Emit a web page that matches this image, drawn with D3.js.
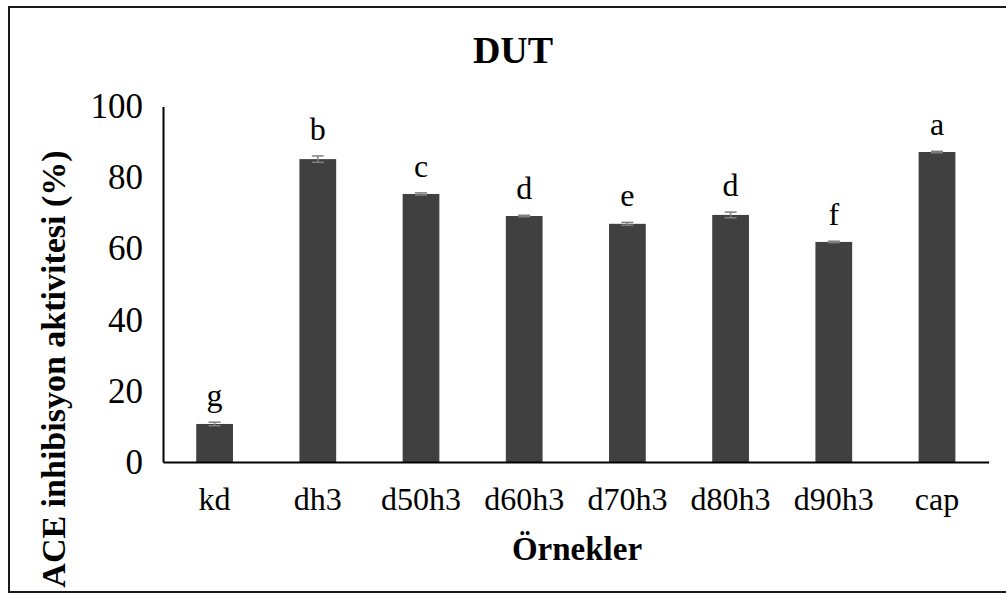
<!DOCTYPE html>
<html><head><meta charset="utf-8">
<script src="https://cdn.jsdelivr.net/npm/d3@7"></script>
<style>body{margin:0;background:#fff}svg{display:block}
svg text{font-family:"Liberation Serif","Times New Roman",Times,serif !important;}</style>
</head><body>
<script>
const categories = ["kd","dh3","d50h3","d60h3","d70h3","d80h3","d90h3","cap"];
const values = [10.7, 85.2, 75.4, 69.2, 67.0, 69.5, 61.9, 87.2];
const errors = [0.5, 0.9, 0.3, 0.2, 0.4, 0.8, 0.2, 0.2];
const letters = ["g","b","c","d","e","d","f","a"];
const yTicks = [0,20,40,60,80,100];

const W = 1006, H = 597;
const svg = d3.select("body").append("svg").attr("width", W).attr("height", H);

svg.append("rect").attr("x",9).attr("y",7).attr("width",W-9+2).attr("height",585)
  .attr("fill","#fff").attr("stroke","#1a1a1a").attr("stroke-width",2);

const x = d3.scaleBand().domain(categories).range([163, 988.6]).paddingInner(0.644).paddingOuter(0.322);
const y = d3.scaleLinear().domain([0,100]).range([462, 106.5]);

// bars
svg.selectAll("rect.bar").data(categories).enter().append("rect")
  .attr("class","bar")
  .attr("x", d => x(d)).attr("width", x.bandwidth())
  .attr("y", (d,i) => y(values[i])).attr("height", (d,i) => y(0)-y(values[i]))
  .attr("fill","#404040");

// error bars
const eb = svg.append("g").attr("stroke","#7f7f7f").attr("stroke-width",1.5);
categories.forEach((c,i) => {
  const cx = x(c) + x.bandwidth()/2;
  const y1 = y(values[i]+errors[i]), y2 = y(values[i]-errors[i]);
  eb.append("line").attr("x1",cx).attr("x2",cx).attr("y1",y1).attr("y2",y2);
  eb.append("line").attr("x1",cx-6).attr("x2",cx+6).attr("y1",y1).attr("y2",y1);
  eb.append("line").attr("x1",cx-6).attr("x2",cx+6).attr("y1",y2).attr("y2",y2);
});

// letters
svg.selectAll("text.lt").data(categories).enter().append("text")
  .attr("x", d => x(d) + x.bandwidth()/2)
  .attr("y", (d,i) => y(values[i]+errors[i]) - 16)
  .attr("text-anchor","middle").attr("font-size",32)
  .attr("fill","#000").text((d,i) => letters[i]);

// y axis
const ya = svg.append("g").attr("transform","translate(163,0)")
  .call(d3.axisLeft(y).tickValues(yTicks).tickSize(0).tickPadding(20));
ya.select(".domain").attr("stroke","#000").attr("stroke-width",2);
ya.selectAll("text").attr("font-size",35).attr("fill","#000");

// x axis
const xa = svg.append("g").attr("transform","translate(0,462)")
  .call(d3.axisBottom(x).tickSize(0).tickPadding(25));
xa.select(".domain").attr("stroke","#000").attr("stroke-width",2);
xa.selectAll("text").attr("font-size",32).attr("fill","#000");

// titles
svg.append("text").attr("x",513).attr("y",63).attr("text-anchor","middle")
  .attr("font-weight","bold").attr("font-size",38).text("DUT");
svg.append("text").attr("x",577).attr("y",560).attr("text-anchor","middle")
  .attr("font-weight","bold").attr("font-size",33).text("Örnekler");
svg.append("text").attr("transform","translate(65,369) rotate(-90)").attr("text-anchor","middle")
  .attr("font-weight","bold").attr("font-size",34).text("ACE inhibisyon aktivitesi (%)");
</script>
</body></html>
